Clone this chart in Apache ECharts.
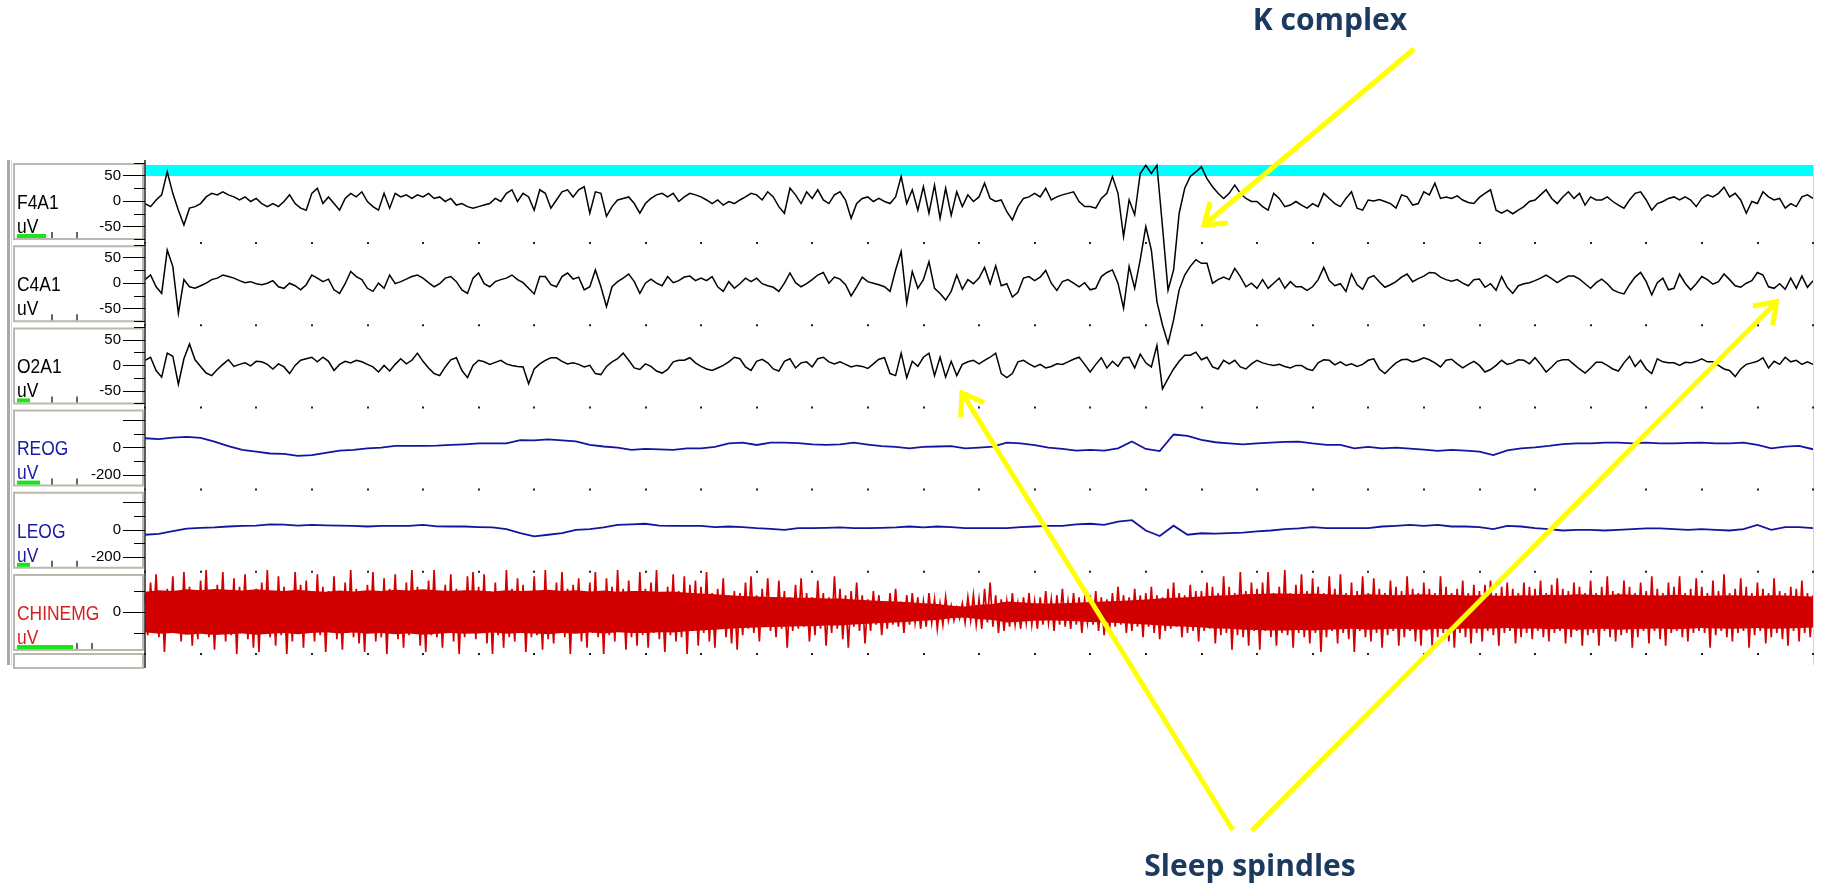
<!DOCTYPE html>
<html><head><meta charset="utf-8">
<script src="https://cdn.jsdelivr.net/npm/echarts@6/dist/echarts.min.js"></script>
<style>html,body{margin:0;padding:0;background:#fff}#c{width:1822px;height:886px}</style>
</head><body><div id="c"></div><script>
// ---- sampling steps (seconds) ----
const EEG_STEP = 0.1, EOG_STEP = 0.25, EMG_STEP = 0.05, EMG_CORE_STEP = 0.25;
const EPOCH_SECONDS = 30;

// ---- channel names ----
const channelNames = ['F4A1', 'C4A1', 'O2A1', 'REOG', 'LEOG', 'CHINEMG'];

// ---- tick values ----
const EEG_LONG_TICKS = [-50, 0, 50];
const EEG_SHORT_TICKS = [-75, -25, 25, 75];
const EOG_LONG_TICKS = [-200, 0, 200];
const EOG_LABEL_TICKS = [-200, 0];
const EOG_SHORT_TICKS = [-100, 100];
const EMG_LONG_TICKS = [0];
const EMG_SHORT_TICKS = [-50, 50];

// ---- series values (uV) ----
const F4A1 = [
-5,-11,2,12,57,15,-18,-47,-14,-11,
-5,8,15,12,18,12,8,2,8,-1,
5,-5,-11,-5,-11,-1,12,-5,-14,-18,
15,25,-5,8,-5,-18,5,15,8,18,
-1,-11,-18,15,-14,15,8,12,5,12,
8,15,5,8,-1,5,-8,-5,-11,-14,
-11,-8,-5,5,-1,15,22,-1,15,8,
-18,22,15,-14,2,18,22,8,22,28,
-24,18,15,-30,-11,2,5,8,-5,-24,
-5,5,12,15,8,15,-1,8,15,12,
8,2,-5,2,-8,-1,-5,2,8,15,
12,2,18,8,-11,-24,25,12,-5,18,
5,22,2,-5,12,18,2,-34,-5,5,
8,-1,5,-1,-5,8,48,-5,22,-18,
28,-24,31,-34,25,-28,18,-11,12,-1,
8,35,5,-1,2,-21,-37,-11,5,8,
15,8,25,2,8,12,15,18,-1,-11,
-11,-14,5,15,48,15,-70,2,-27,54,
70,54,70,-50,-175,-135,-24,25,48,57,
67,44,28,15,5,15,31,15,5,-1,
-1,-11,-18,15,5,-11,-8,-1,-8,-14,
-5,-11,15,5,-5,-11,5,18,-14,-18,
2,0,3,-1,-5,-14,12,8,-8,-5,
18,12,35,5,8,5,10,2,-3,-5,
7,15,22,-18,-24,-18,-25,-18,-11,-1,
2,12,22,5,-5,8,18,5,15,-8,
8,2,2,8,-1,-8,-14,2,15,18,
2,-18,-5,-1,5,8,2,8,2,-11,
5,12,8,15,27,8,15,2,-24,-1,
-5,18,8,2,5,-14,-5,-11,8,12,
5];

const C4A1 = [
7,16,-7,-20,65,33,-59,7,-7,-10,
-5,0,7,10,16,13,10,5,1,3,
-1,-3,0,5,-7,-10,0,-5,-13,-3,
16,10,3,8,-13,-20,-1,23,13,7,
-10,-16,0,-10,16,-1,3,8,13,16,
10,1,-7,-1,10,13,3,-13,-20,10,
20,-1,-7,3,7,10,16,7,1,-10,
-21,13,13,-3,-7,13,20,8,12,-13,
-7,26,-7,-46,-7,3,10,18,3,-20,
0,8,0,-5,13,1,5,12,14,5,
10,5,13,-7,-16,3,-10,-1,10,3,
10,-1,-5,-8,-16,0,20,1,-7,-1,
7,16,21,0,12,8,-3,-25,-7,12,
3,0,-3,-7,-16,26,62,-39,23,-10,
7,42,-10,-20,-33,-16,16,-12,7,-1,
10,31,-1,34,-5,-1,-27,-18,10,13,
5,12,25,0,-14,3,7,0,-7,1,
-13,-10,13,21,26,0,-49,33,-10,46,
111,65,-36,-82,-118,-72,-13,16,33,46,
39,39,0,7,12,7,29,13,-7,0,
-10,7,-10,0,10,-10,3,-7,-7,-14,
-7,7,31,5,-5,-1,-16,18,-3,-12,
10,15,3,-8,-3,3,12,18,3,9,
14,21,20,12,7,4,7,0,-5,7,
8,-8,-1,-14,13,-8,-20,-5,-1,1,
5,10,16,9,1,8,14,14,8,-1,
-10,1,8,-1,-13,-18,-21,-3,12,21,
3,-23,1,10,-13,-10,18,0,-13,-1,
13,7,-2,3,18,7,-5,-8,0,5,
21,16,-7,-10,-1,-12,10,-10,14,-8,
5];

const O2A1 = [
10,16,-10,-23,24,18,-37,13,42,11,
-2,-15,-20,-8,2,11,-2,2,5,-1,
8,7,2,-7,3,-3,-16,0,10,13,
16,7,16,8,-10,2,8,5,10,7,
2,-3,-13,0,-11,2,13,3,10,24,
8,-5,-16,-20,-3,11,15,-10,-24,0,
10,7,2,6,10,3,0,-2,-3,-36,
-7,3,10,15,15,8,3,5,2,-3,
0,-16,-18,-2,7,13,24,10,-5,-8,
3,-2,-11,-15,-8,7,10,10,15,5,
-2,-7,-10,-5,0,7,16,13,-3,-10,
8,12,5,-7,-11,8,13,-5,5,7,
-3,13,16,7,3,7,2,-3,0,-2,
-6,3,12,15,-16,-20,24,-24,8,-2,
16,24,-20,16,-23,8,-20,2,7,10,
3,10,16,24,-16,-24,-16,7,10,3,
-3,2,-5,-2,3,2,7,12,16,2,
-13,2,15,-5,8,-2,15,16,-5,22,
5,-3,39,-46,-26,-7,8,20,20,26,
11,16,-3,-7,10,3,10,-3,-7,3,
10,5,2,0,2,-2,-5,0,0,-7,
-10,5,11,10,1,7,0,3,-2,2,
10,13,-7,-16,-5,5,11,12,7,10,
15,11,5,-3,10,12,3,-5,2,8,
0,-13,-8,0,10,2,5,11,10,3,
15,2,-13,-3,8,11,11,2,-7,-15,
-5,6,6,0,-7,-11,5,18,-2,10,
-7,-16,13,7,5,5,0,6,5,8,
13,7,7,0,-7,-10,-22,-7,2,5,
8,15,-5,8,2,16,7,10,2,7,
2];

const REOG = [
68,62,72,78,70,44,10,-17,-30,-43,-46,-60,
-55,-38,-22,-17,-5,0,12,12,13,15,20,24,
30,31,31,55,52,60,52,45,20,8,0,-17,
-10,-13,-17,-5,-5,5,30,36,19,36,36,32,
24,20,24,36,22,10,5,-5,5,8,10,-5,
0,7,36,30,18,0,-10,-22,-17,-22,-5,44,
-10,-25,95,85,56,39,31,24,31,36,41,44,
30,20,20,-5,5,-5,0,-8,-15,-24,-17,-22,
-29,-55,-20,-5,2,12,26,31,31,36,36,31,
36,31,31,34,36,31,31,36,20,-5,7,12,
-12];

const LEOG = [
-36,-30,-10,8,14,17,24,29,30,40,38,30,
36,32,30,29,24,28,29,29,36,25,24,24,
20,17,5,-24,-48,-36,-24,0,5,17,36,40,
44,30,29,29,29,20,24,20,12,7,0,12,
12,14,17,12,12,14,17,24,17,24,20,12,
12,12,12,20,24,29,29,40,44,36,60,70,
-5,-45,30,-36,-25,-28,-24,-20,-12,-5,5,10,
20,12,12,12,12,24,29,36,29,36,24,24,
20,5,29,24,12,5,-5,0,0,-5,0,5,
10,10,5,0,5,0,-5,5,36,0,20,20,
12];

const CHINEMG = [
40,-55,70,-35,90,-60,45,-95,55,-40,85,-50,35,-70,95,-45,60,-80,40,-65,
75,-45,100,-60,50,-90,65,-40,95,-70,45,-55,80,-100,60,-45,90,-65,50,-85,
55,-95,70,-50,100,-60,45,-80,85,-55,60,-100,50,-70,95,-45,65,-85,75,-50,
45,-70,90,-55,60,-95,50,-45,85,-65,40,-90,70,-50,100,-60,55,-75,45,-95,
65,-50,95,-70,45,-60,80,-100,55,-45,90,-65,50,-85,70,-55,100,-45,60,-80,
50,-95,75,-55,100,-60,45,-85,65,-50,90,-70,55,-100,45,-60,85,-50,95,-65,
60,-45,90,-75,50,-100,70,-55,45,-85,100,-60,55,-70,80,-50,65,-95,45,-60,
85,-55,50,-90,100,-65,45,-75,70,-50,95,-60,55,-100,65,-45,80,-70,50,-85,
70,-50,95,-60,45,-100,80,-55,60,-70,100,-45,55,-90,75,-60,50,-80,95,-55,
55,-85,70,-50,100,-65,45,-95,60,-55,90,-70,50,-60,85,-100,65,-45,75,-80,
60,-50,95,-70,45,-85,55,-40,80,-60,40,-75,50,-90,45,-55,70,-40,85,-50,
40,-70,55,-35,80,-45,35,-60,75,-40,50,-85,35,-45,65,-40,80,-35,45,-70,
35,-55,75,-40,45,-80,35,-50,85,-40,55,-65,40,-85,50,-35,70,-45,40,-75,
30,-45,50,-30,40,-55,25,-40,45,-30,55,-35,25,-50,40,-30,45,-25,35,-40,
25,-35,45,-25,30,-40,20,-30,35,-20,15,-20,10,-15,20,-25,35,-20,40,-30,
30,-40,55,-25,70,-35,40,-50,30,-45,25,-35,45,-30,20,-40,35,-25,45,-30,
25,-40,35,-30,50,-25,30,-45,40,-30,55,-35,25,-40,45,-30,35,-50,30,-25,
40,-30,50,-45,35,-55,30,-40,45,-35,60,-30,40,-50,35,-45,55,-35,40,-60,
45,-35,60,-50,40,-65,35,-45,55,-40,70,-35,45,-60,40,-50,65,-45,50,-70,
50,-45,70,-40,60,-75,45,-55,85,-50,60,-90,45,-55,95,-60,50,-80,70,-45,
55,-90,70,-45,95,-60,45,-80,60,-50,100,-55,45,-85,65,-50,90,-60,50,-75,
80,-50,60,-95,45,-60,85,-45,55,-75,90,-50,45,-65,70,-95,50,-45,85,-60,
45,-70,80,-50,55,-85,45,-55,75,-45,60,-80,50,-60,85,-45,55,-70,45,-80,
70,-45,55,-80,45,-60,85,-50,60,-70,45,-85,55,-50,75,-60,45,-75,65,-50,
50,-70,65,-45,75,-55,45,-80,60,-50,70,-45,55,-75,45,-60,70,-50,60,-65,
55,-45,75,-60,45,-70,65,-50,80,-45,55,-75,50,-60,70,-45,60,-80,45,-55,
75,-50,45,-80,60,-45,85,-60,50,-70,45,-55,75,-50,60,-85,45,-60,70,-45,
50,-75,85,-45,55,-65,45,-80,70,-50,60,-45,85,-60,45,-70,55,-50,80,-45,
60,-50,45,-85,75,-55,50,-45,90,-60,45,-70,55,-50,80,-45,60,-85,45,-55,
70,-45,55,-75,45,-60,80,-50,50,-65,45,-80,60,-45,55,-70,75,-50,45,-60,
40];

// dense-core amplitude of the EMG trace (units), every 0.25 s
const CHINEMG_CORE = [
48,52,50,54,52,55,53,51,54,52,50,53,
50,48,51,49,52,50,53,51,54,52,50,52,
51,49,52,50,51,53,50,52,49,51,48,50,
50,48,49,46,44,42,40,38,37,36,35,34,
34,32,32,30,28,26,25,23,21,19,15,13,
17,19,25,23,21,20,21,22,24,25,26,28,
30,32,34,35,37,39,40,42,43,44,44,43,
44,42,41,40,42,41,40,41,42,40,41,39,
40,39,38,40,39,41,40,42,41,40,42,41,
40,39,41,40,38,39,40,39,38,40,39,38,
37];

// ---- layout / style ----
const PLOT_L = 145, PLOT_R = 1813;
const ROW_C0 = 201, ROW_GAP = 82.2, HALF = 41;
const rows = [
  {data: F4A1, step: EEG_STEP, pxPer: 0.51, longT: EEG_LONG_TICKS, labT: EEG_LONG_TICKS, shortT: EEG_SHORT_TICKS, color: '#000000', lw: 1.5, lab: '#000000', green: 29, marks: [52, 77]},
  {data: C4A1, step: EEG_STEP, pxPer: 0.51, longT: EEG_LONG_TICKS, labT: EEG_LONG_TICKS, shortT: EEG_SHORT_TICKS, color: '#000000', lw: 1.5, lab: '#000000', green: 0, marks: [52, 77]},
  {data: O2A1, step: EEG_STEP, pxPer: 0.51, longT: EEG_LONG_TICKS, labT: EEG_LONG_TICKS, shortT: EEG_SHORT_TICKS, color: '#000000', lw: 1.5, lab: '#000000', green: 13, marks: [52, 77]},
  {data: REOG, step: EOG_STEP, pxPer: 0.1375, longT: EOG_LONG_TICKS, labT: EOG_LABEL_TICKS, shortT: EOG_SHORT_TICKS, color: '#1414a0', lw: 1.8, lab: '#1a1aa8', green: 23, marks: [52, 77]},
  {data: LEOG, step: EOG_STEP, pxPer: 0.1375, longT: EOG_LONG_TICKS, labT: EOG_LABEL_TICKS, shortT: EOG_SHORT_TICKS, color: '#1414a0', lw: 1.8, lab: '#1a1aa8', green: 13, marks: [52, 77]},
  {data: CHINEMG, step: EMG_STEP, pxPer: 0.42, longT: EMG_LONG_TICKS, labT: EMG_LONG_TICKS, shortT: EMG_SHORT_TICKS, color: '#d20000', lw: 1.7, lab: '#d42020', green: 56, marks: [77, 92]}
];

const grids = [], xAxes = [], yAxes = [], series = [], graphics = [];
graphics.push({type: 'rect', z: 0, shape: {x: PLOT_L, y: 165, width: PLOT_R - PLOT_L, height: 11}, style: {fill: '#00ffff'}});
graphics.push({type: 'rect', z: 0, shape: {x: 7, y: 160, width: 3, height: 505}, style: {fill: '#a9a9a9'}});
graphics.push({type: 'line', z: 0, shape: {x1: 11.5, y1: 160, x2: 11.5, y2: 665}, style: {stroke: '#d8d8d8', lineWidth: 1}});
graphics.push({type: 'line', z: 5, shape: {x1: PLOT_R + 0.5, y1: 165, x2: PLOT_R + 0.5, y2: 665}, style: {stroke: '#d6d6d6', lineWidth: 1}});

rows.forEach((r, i) => {
  const c = ROW_C0 + ROW_GAP * i;
  const half = HALF / r.pxPer;
  grids.push({left: PLOT_L, width: PLOT_R - PLOT_L, top: c - HALF, height: HALF * 2, containLabel: false});
  xAxes.push({type: 'value', gridIndex: i, min: 0, max: EPOCH_SECONDS, interval: 1, position: 'bottom', z: 10,
    axisLine: {show: false, onZero: false},
    axisTick: {show: true, length: 2, lineStyle: {color: '#222', width: 2}},
    axisLabel: {show: false}, splitLine: {show: false}});
  yAxes.push({type: 'value', gridIndex: i, min: -half, max: half, position: 'left', z: 10,
    axisLine: {show: false, onZero: false},
    axisTick: {show: true, customValues: r.longT, length: 22, lineStyle: {color: '#000', width: 1}},
    axisLabel: {show: true, customValues: r.labT, margin: 24, fontSize: 15, color: '#000', fontFamily: 'Liberation Sans'},
    splitLine: {show: false}});
  yAxes.push({type: 'value', gridIndex: i, min: -half, max: half, position: 'left', z: 10,
    axisLine: {show: false, onZero: false},
    axisTick: {show: true, customValues: r.shortT, length: 11, lineStyle: {color: '#000', width: 1}},
    axisLabel: {show: false}, splitLine: {show: false}});
  series.push({type: 'line', xAxisIndex: i, yAxisIndex: i * 2, showSymbol: false, clip: false, animation: false,
    silent: true, z: 3,
    lineStyle: {color: r.color, width: r.lw, join: 'miter'},
    data: r.data.map((v, k) => [+(k * r.step).toFixed(3), v])});

  graphics.push({type: 'rect', z: 1, shape: {x: 14, y: c - 37, width: 129, height: 75},
    style: {fill: '#ffffff', stroke: '#bcb8ae', lineWidth: 2}});
  graphics.push({type: 'text', z: 2, x: 17, y: c + 2, scaleX: 0.83,
    style: {text: channelNames[i], x: 0, y: 0, fill: r.lab, fontSize: 21, fontFamily: 'Liberation Sans', verticalAlign: 'middle', align: 'left'}});
  graphics.push({type: 'text', z: 2, x: 17, y: c + 26, scaleX: 0.83,
    style: {text: 'uV', x: 0, y: 0, fill: r.lab, fontSize: 21, fontFamily: 'Liberation Sans', verticalAlign: 'middle', align: 'left'}});
  if (r.green > 0) {
    graphics.push({type: 'rect', z: 2, shape: {x: 17, y: c + 33, width: r.green, height: 4}, style: {fill: '#19e619'}});
  }
  r.marks.forEach(mx => {
    graphics.push({type: 'line', z: 2, shape: {x1: mx, y1: c + 31, x2: mx, y2: c + 37}, style: {stroke: '#333', lineWidth: 1.5}});
  });
});

// EMG dense core band (upper and lower halves filled to zero)
const emgAxis = {xAxisIndex: 5, yAxisIndex: 10};
['up', 'down'].forEach(dir => {
  series.push(Object.assign({type: 'line', showSymbol: false, clip: false, animation: false, silent: true, z: 2,
    lineStyle: {width: 0}, areaStyle: {color: '#d20000', opacity: 1, origin: 0},
    data: CHINEMG_CORE.map((v, k) => [+(k * EMG_CORE_STEP).toFixed(3), dir === 'up' ? v : -v])}, emgAxis));
});

graphics.push({type: 'rect', z: 1, shape: {x: 14, y: 654, width: 129, height: 14}, style: {fill: '#fff', stroke: '#bcb8ae', lineWidth: 2}});
graphics.push({type: 'line', z: 5, shape: {x1: PLOT_L, y1: 160, x2: PLOT_L, y2: 668}, style: {stroke: '#333', lineWidth: 1.6}});

const YEL = '#ffff00';
const NAVY = '#1c3a60';
graphics.push({type: 'text', z: 20, x: 1330, y: 21, style: {text: 'K complex', fill: NAVY, fontSize: 30, fontWeight: 'bold', fontFamily: 'Open Sans', align: 'center', verticalAlign: 'middle'}});
graphics.push({type: 'text', z: 20, x: 1250, y: 867, style: {text: 'Sleep spindles', fill: NAVY, fontSize: 30, fontWeight: 'bold', fontFamily: 'Open Sans', align: 'center', verticalAlign: 'middle'}});
function arrow(x1, y1, x2, y2, a, b) {
  graphics.push({type: 'line', z: 20, shape: {x1, y1, x2, y2}, style: {stroke: YEL, lineWidth: 5}});
  graphics.push({type: 'polyline', z: 20, shape: {points: [a, [x2, y2], b]}, style: {stroke: YEL, lineWidth: 5, fill: null, lineJoin: 'miter'}});
}
arrow(1414, 49, 1204, 225, [1210, 202], [1228, 223]);
arrow(1232.7, 830, 962, 393, [984, 402.5], [960.7, 417]);
arrow(1251.7, 830.7, 1776.7, 301.7, [1772.6, 325.3], [1753.1, 306]);

const chart = echarts.init(document.getElementById('c'), null, {renderer: 'canvas'});
chart.setOption({
  animation: false,
  backgroundColor: '#ffffff',
  grid: grids, xAxis: xAxes, yAxis: yAxes, series: series,
  graphic: graphics
});
</script></body></html>
